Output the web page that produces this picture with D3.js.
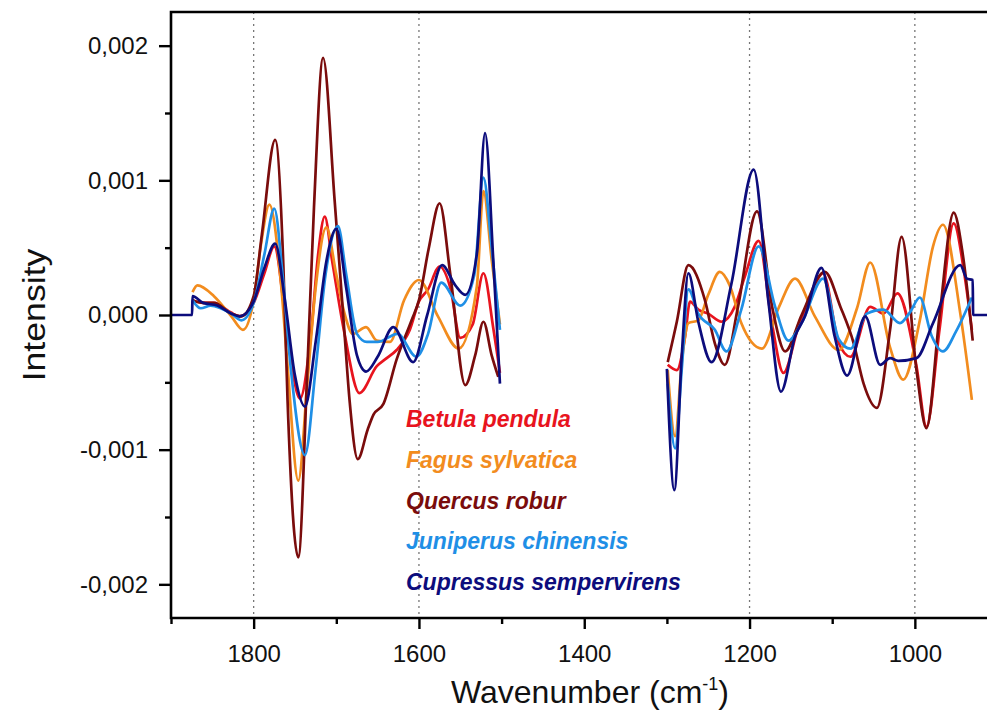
<!DOCTYPE html>
<html>
<head>
<meta charset="utf-8">
<script src="https://cdn.jsdelivr.net/npm/d3@7"></script>
<style>
    body { margin: 0; background: #fff; }
    text { font-family: Arial, "Liberation Sans", sans-serif; }
</style>
</head>
<body>
<svg id="chart" width="987" height="711"></svg>
<script>
// spectra: [wavenumber, intensity in 1e-3 units], two windows per species
const betulaLeft = [[1874, 0.11], [1861, 0.09], [1848, 0.09], [1828, 0.02], [1817, -0.01], [1800, 0.09], [1787, 0.31], [1775, 0.51], [1762, 0.0], [1752, -0.45], [1744, -0.62], [1730, -0.1], [1722, 0.45], [1714, 0.73], [1705, 0.4], [1690, -0.14], [1672, -0.58], [1651, -0.38], [1639, -0.32], [1627, -0.26], [1611, -0.11], [1600, 0.1], [1589, 0.19], [1575, 0.36], [1562, 0.2], [1550, -0.17], [1535, -0.07], [1522, 0.31], [1510, -0.1], [1502, -0.43]];
const betulaRight = [[1299, -0.37], [1288, -0.41], [1278, -0.16], [1272, 0.10], [1262, 0.04], [1250, 0.01], [1234, -0.05], [1218, 0.06], [1206, 0.28], [1189, 0.55], [1173, -0.06], [1159, -0.43], [1141, -0.09], [1129, 0.09], [1111, 0.31], [1092, -0.21], [1078, -0.31], [1054, 0.06], [1038, 0.01], [1021, 0.16], [998, -0.38], [986, -0.83], [970, -0.1], [953, 0.68], [940, 0.3], [931, -0.11]];

const fagusLeft = [[1874, 0.17], [1868, 0.22], [1848, 0.14], [1827, -0.01], [1813, -0.11], [1800, 0.11], [1791, 0.53], [1781, 0.82], [1767, 0.24], [1759, -0.38], [1746, -1.23], [1735, -0.5], [1725, 0.2], [1712, 0.65], [1700, 0.3], [1690, 0.01], [1680, -0.14], [1664, -0.09], [1651, -0.19], [1635, -0.2], [1618, 0.11], [1600, 0.26], [1577, -0.01], [1552, -0.25], [1530, 0.21], [1522, 0.92], [1512, 0.41], [1502, -0.07]];
const fagusRight = [[1299, -0.41], [1290, -0.9], [1282, -0.35], [1274, -0.06], [1262, -0.04], [1250, 0.15], [1236, 0.32], [1224, 0.22], [1210, -0.06], [1185, -0.25], [1165, 0.05], [1145, 0.27], [1121, -0.01], [1092, -0.26], [1070, 0.05], [1054, 0.39], [1030, -0.24], [1014, -0.48], [994, -0.04], [978, 0.51], [966, 0.67], [945, 0.01], [931, -0.63]];

const quercusLeft = [[1874, 0.11], [1861, 0.09], [1848, 0.09], [1827, 0.01], [1815, -0.01], [1800, 0.14], [1790, 0.6], [1774, 1.30], [1764, 0.36], [1759, -0.63], [1746, -1.80], [1735, -0.4], [1727, 0.8], [1716, 1.91], [1702, 0.85], [1690, -0.14], [1684, -0.63], [1674, -1.07], [1662, -0.85], [1655, -0.74], [1643, -0.66], [1627, -0.33], [1609, -0.04], [1600, 0.11], [1588, 0.5], [1575, 0.83], [1562, 0.3], [1544, -0.52], [1532, -0.3], [1522, -0.05], [1512, -0.3], [1504, -0.46]];
const quercusRight = [[1299, -0.35], [1288, -0.05], [1274, 0.37], [1254, 0.11], [1242, -0.21], [1230, -0.37], [1214, 0.06], [1191, 0.77], [1172, 0.04], [1157, -0.27], [1137, 0.0], [1109, 0.32], [1090, 0.06], [1074, -0.21], [1062, -0.51], [1046, -0.69], [1030, -0.11], [1016, 0.58], [998, -0.41], [986, -0.84], [970, 0.0], [953, 0.76], [942, 0.45], [930, -0.19]];

const juniperusLeft = [[1874, 0.11], [1864, 0.05], [1852, 0.07], [1827, 0.01], [1815, -0.04], [1800, 0.09], [1787, 0.45], [1775, 0.79], [1765, 0.3], [1755, -0.4], [1738, -1.04], [1725, -0.4], [1713, 0.3], [1698, 0.66], [1688, 0.3], [1675, -0.14], [1663, -0.2], [1650, -0.2], [1626, -0.14], [1603, -0.31], [1589, -0.14], [1573, 0.24], [1550, 0.07], [1533, 0.3], [1522, 1.02], [1512, 0.5], [1502, -0.11]];
const juniperusRight = [[1299, -0.51], [1290, -0.99], [1282, -0.4], [1274, 0.19], [1262, 0.01], [1242, -0.11], [1228, -0.27], [1210, 0.04], [1189, 0.51], [1169, 0.06], [1153, -0.19], [1137, -0.06], [1111, 0.27], [1092, -0.18], [1078, -0.25], [1058, 0.01], [1038, 0.04], [1018, -0.06], [1006, 0.02], [994, 0.13], [980, -0.15], [966, -0.27], [950, -0.12], [931, 0.13]];

const cupressusLeft = [[1900, 0], [1874.5, 0], [1874, 0.14], [1861, 0.09], [1844, 0.07], [1827, 0.01], [1817, -0.01], [1800, 0.1], [1787, 0.35], [1774, 0.53], [1762, 0.1], [1750, -0.45], [1738, -0.68], [1725, -0.2], [1712, 0.4], [1700, 0.64], [1688, 0.2], [1675, -0.3], [1664, -0.42], [1650, -0.31], [1631, -0.09], [1607, -0.35], [1590, 0.0], [1572, 0.37], [1556, 0.22], [1544, 0.15], [1530, 0.45], [1520, 1.35], [1510, 0.4], [1502, -0.51]];
const cupressusRight = [[1300, -0.4], [1291, -1.30], [1282, -0.3], [1274, 0.31], [1262, -0.05], [1246, -0.35], [1222, 0.23], [1195, 1.08], [1177, 0.09], [1162, -0.57], [1145, -0.16], [1133, -0.01], [1113, 0.35], [1097, -0.16], [1082, -0.45], [1060, -0.01], [1042, -0.37], [1030, -0.32], [1020, -0.34], [998, -0.32], [978, -0.06], [945, 0.37], [937, 0.27], [930, 0.26], [929.5, 0], [900, 0]];

const speciesNames = ['Betula pendula', 'Fagus sylvatica', 'Quercus robur', 'Juniperus chinensis', 'Cupressus sempervirens'];
const speciesColors = ['#e8141e', '#f28c1e', '#7a0c0c', '#1f8fe6', '#0c0c7c'];
const speciesSegments = [
    [betulaLeft, betulaRight],
    [fagusLeft, fagusRight],
    [quercusLeft, quercusRight],
    [juniperusLeft, juniperusRight],
    [cupressusLeft, cupressusRight]
];

const xMajorTicks = [1800, 1600, 1400, 1200, 1000];
const xMinorTicks = [1900, 1700, 1500, 1300, 1100];
const xGridLines = [1800, 1600, 1200, 1000];
const yMajorTicks = [-0.002, -0.001, 0, 0.001, 0.002];
const yMinorTicks = [-0.0015, -0.0005, 0.0005, 0.0015];

const W = 987, H = 711;
const plotLeft = 171, plotTop = 12, plotBottom = 618;

let svg = d3.select('#chart');

let x = d3.scaleLinear().domain([1900, 900]).range([plotLeft, 997.5]);
let y = d3.scaleLinear().domain([-0.00225, 0.00225]).range([plotBottom, plotTop]);

let locale = d3.formatLocale({decimal: ',', thousands: '.', grouping: [3], currency: ['', ''], minus: '-'});
let fmt = locale.format('.3f');

// dotted grid
svg.append('g')
    .selectAll('line')
    .data(xGridLines)
    .join('line')
    .attr('x1', d => x(d)).attr('x2', d => x(d))
    .attr('y1', plotTop).attr('y2', plotBottom)
    .attr('stroke', '#777')
    .attr('stroke-width', 1.3)
    .attr('stroke-dasharray', '2,4');

// spectra
let line = d3.line()
    .x(d => x(d[0]))
    .y(d => y(d[1] * 1e-3))
    .curve(d3.curveMonotoneX);

let plot = svg.append('g');
speciesSegments.forEach((segs, i) => {
    plot.selectAll(null)
        .data(segs)
        .join('path')
        .attr('d', line)
        .attr('fill', 'none')
        .attr('stroke', speciesColors[i])
        .attr('stroke-width', 2.7)
        .attr('stroke-linejoin', 'round');
});

// axes
svg.append('g').attr('transform', `translate(0, ${plotBottom})`)
    .call(d3.axisBottom(x).tickValues(xMajorTicks).tickSize(11).tickPadding(16).tickFormat(d3.format('d')));
svg.append('g').attr('transform', `translate(0, ${plotBottom})`)
    .call(d3.axisBottom(x).tickValues(xMinorTicks).tickSize(6).tickFormat(''));

svg.append('g').attr('transform', `translate(${plotLeft}, 0)`)
    .call(d3.axisLeft(y).tickValues(yMajorTicks).tickSize(12).tickPadding(11).tickFormat(fmt));
svg.append('g').attr('transform', `translate(${plotLeft}, 0)`)
    .call(d3.axisLeft(y).tickValues(yMinorTicks).tickSize(6).tickFormat(''));

svg.selectAll('.domain').remove();
svg.selectAll('.tick line').attr('stroke', '#000').attr('stroke-width', 2.4);
svg.selectAll('.tick text')
    .attr('fill', '#111')
    .style('font-size', '24px');

// frame: left, bottom, top
svg.append('path')
    .attr('d', `M${W},${plotTop}H${plotLeft}V${plotBottom}H${W}`)
    .attr('fill', 'none')
    .attr('stroke', '#000')
    .attr('stroke-width', 2.6);

// axis titles
svg.append('text')
    .attr('transform', `translate(45, ${y(0)}) rotate(-90) scale(1.15, 1)`)
    .attr('text-anchor', 'middle')
    .style('font-size', '31px')
    .attr('fill', '#111')
    .text('Intensity');

let xt = svg.append('text')
    .attr('x', 590)
    .attr('y', 703)
    .attr('text-anchor', 'middle')
    .style('font-size', '32px')
    .attr('fill', '#111');
xt.append('tspan').text('Wavenumber (cm');
xt.append('tspan').attr('dy', -13).style('font-size', '18px').text('-1');
xt.append('tspan').attr('dy', 13).text(')');

// legend
svg.append('g')
    .selectAll('text')
    .data(speciesNames)
    .join('text')
    .attr('x', 406)
    .attr('y', (d, i) => 427 + i * 40.8)
    .attr('fill', (d, i) => speciesColors[i])
    .style('font-size', '23px')
    .style('font-weight', 'bold')
    .style('font-style', 'italic')
    .text(d => d);
</script>
</body>
</html>
